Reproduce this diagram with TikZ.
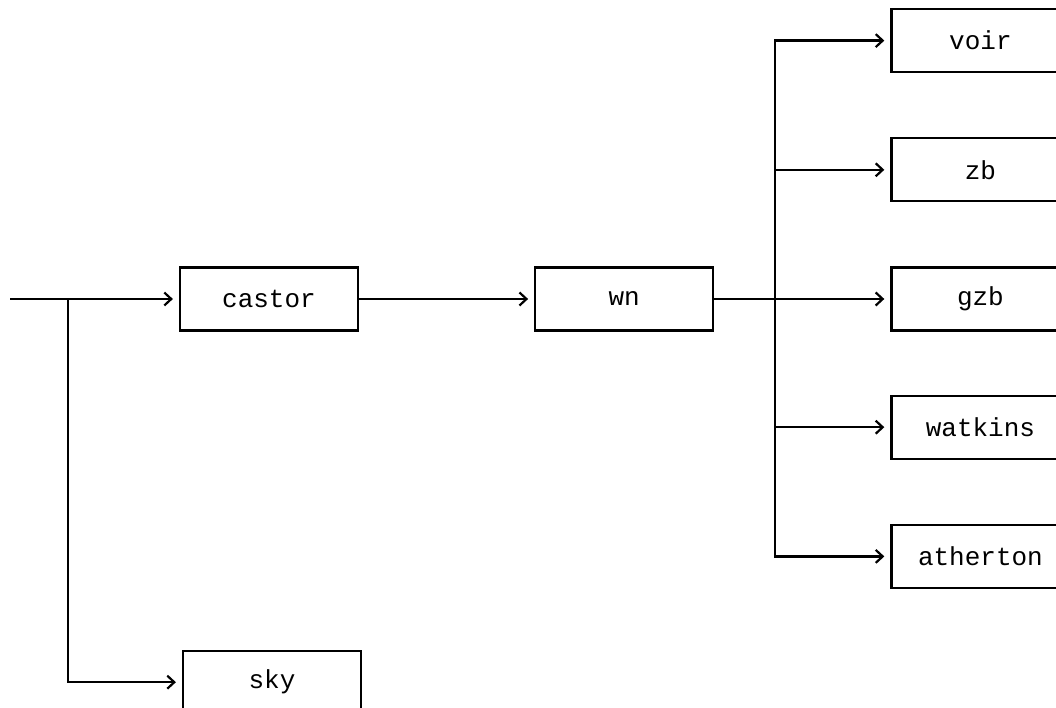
\documentclass[tikz,border=0pt]{standalone}
\usepackage{fontspec}
\setmonofont{Liberation Mono}
\usetikzlibrary{positioning, arrows.meta}

\begin{document}
\begin{tikzpicture}[
        font=\ttfamily\fontsize{26}{30}\selectfont,
        box/.style={
          rectangle, draw, line width=2.2pt,
          minimum width=178pt, minimum height=63pt, inner sep=0pt
        },
        edge/.style={-{Straight Barb[length=7pt, width=13pt, line width=2.2pt]}, line width=2.2pt, shorten >=6pt}
      ]
      \useasboundingbox (0,0) rectangle (1056pt,-708pt);

      % --- main chain ---
      \node[box] (castor) at (269pt,-299pt) {castor};
      \node[box, right=175pt of castor] (wn) {wn};

      % --- right column ---
      \node[box, right=176pt of wn] (gzb) {gzb};
      \node[box, above=64pt of gzb] (zb) {zb};
      \node[box, above=64pt of zb] (voir) {voir};
      \node[box, below=63pt of gzb] (watkins) {watkins};
      \node[box, below=64pt of watkins] (atherton) {atherton};

      % --- lower branch ---
      \node[box, below=318pt of castor, xshift=3pt] (sky) {sky};

      \coordinate (input) at (10pt,-299pt);
      \coordinate (split) at (68pt,-299pt);
      \coordinate (bus) at (775pt,-299pt);

      \draw[edge] (input) -- (castor);
      \draw[edge] (split) |- (sky);
      \draw[edge] (castor) -- (wn);
      \draw[edge] (wn) -- (gzb);
      \foreach \target in {voir, zb, watkins, atherton}
        \draw[edge] (bus) |- (\target);

    \end{tikzpicture}
\end{document}
